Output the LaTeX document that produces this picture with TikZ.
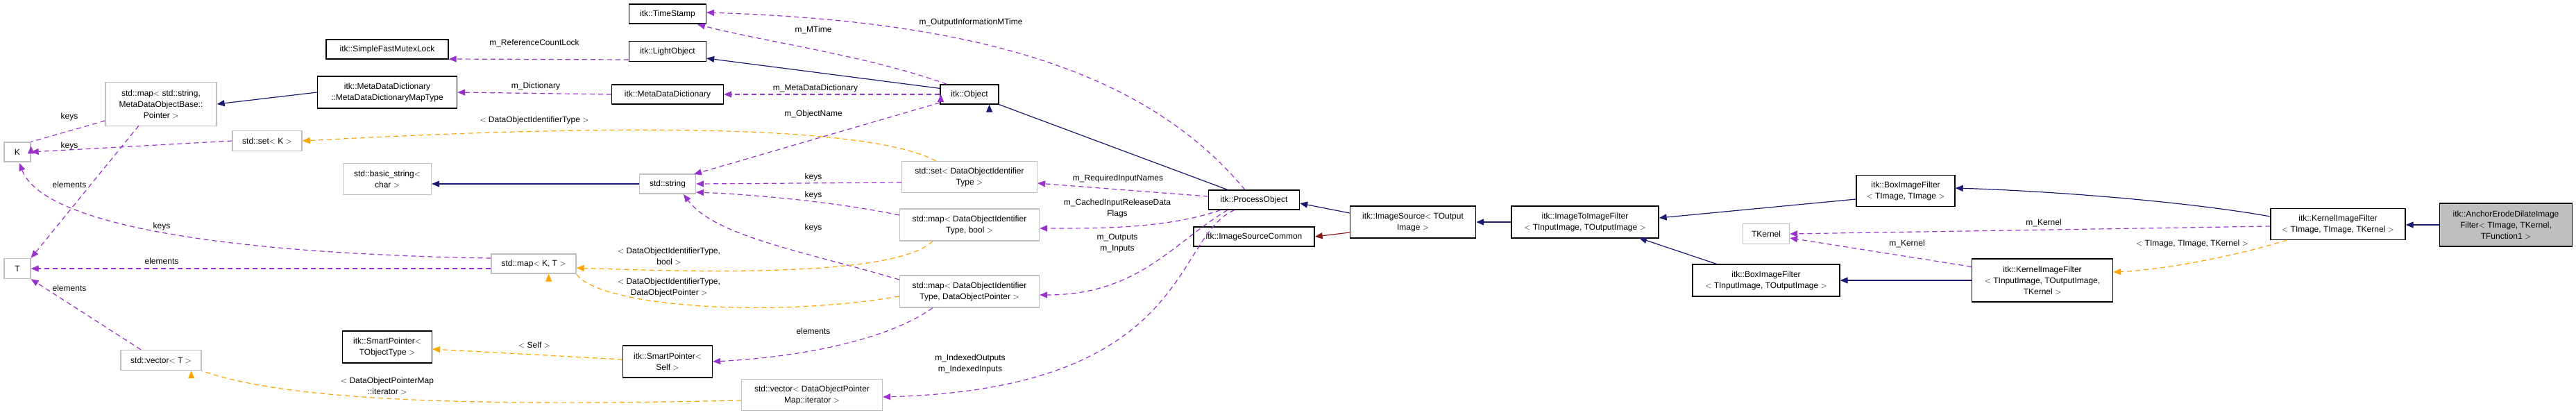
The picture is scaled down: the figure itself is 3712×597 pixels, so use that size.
\documentclass[tikz,border=0pt]{standalone}
\usepackage{fontspec}
\setmainfont{Liberation Sans}
\usetikzlibrary{arrows.meta}
\definecolor{inh}{RGB}{25,25,112}
\definecolor{use}{RGB}{153,50,204}
\definecolor{tpl}{RGB}{255,165,0}
\definecolor{priv}{RGB}{139,26,26}
\definecolor{gborder}{RGB}{191,191,191}
\definecolor{gfill}{RGB}{191,191,191}
\begin{document}
\begin{tikzpicture}[x=1pt,y=-1pt,
  every node/.style={font=\fontsize{12}{16}\selectfont},
  bx/.style={draw=black,line width=1.3pt,fill=white,align=center,inner sep=0pt},
  gx/.style={draw=gborder,line width=1.3pt,fill=white,align=center,inner sep=0pt},
  lb/.style={align=center,inner sep=0pt},
  tip/.style={-{Triangle[length=11pt,width=9pt]}},
  inhe/.style={tip,draw=inh,line width=1.2pt},
  privedge/.style={tip,draw=priv,line width=1.2pt},
  usee/.style={tip,draw=use,line width=1.2pt,dash pattern=on 7pt off 5pt},
  tple/.style={tip,draw=tpl,line width=1.2pt,dash pattern=on 7pt off 5pt}]
\useasboundingbox (0,0) rectangle (3712,597);
% nodes
\node[gx,minimum width=38pt,minimum height=28pt] (K) at (25,219) {K};
\node[gx,minimum width=38pt,minimum height=29pt] (T) at (25,387) {T};
\node[gx,minimum width=160pt,minimum height=63pt] (mapStr) at (232,150) {std::map$<$ std::string,\\ MetaDataObjectBase::\\ Pointer $>$};
\node[gx,minimum width=100pt,minimum height=29pt] (setK) at (385,203) {std::set$<$ K $>$};
\node[gx,minimum width=116pt,minimum height=29pt] (vecT) at (232,519) {std::vector$<$ T $>$};
\node[bx,minimum width=176pt,minimum height=28pt] (sfml) at (558,71) {itk::SimpleFastMutexLock};
\node[bx,minimum width=201pt,minimum height=46pt] (mddmt) at (558,133) {itk::MetaDataDictionary\\ ::MetaDataDictionaryMapType};
\node[gx,minimum width=127pt,minimum height=45pt] (bstr) at (558,258) {std::basic\_string$<$\\ char $>$};
\node[bx,minimum width=129pt,minimum height=46pt] (spT) at (558,500) {itk::SmartPointer$<$\\ TObjectType $>$};
\node[bx,minimum width=111pt,minimum height=28pt] (ts) at (962,20) {itk::TimeStamp};
\node[bx,minimum width=111pt,minimum height=29pt] (lo) at (962,74) {itk::LightObject};
\node[bx,minimum width=161pt,minimum height=28pt] (mdd) at (962,136) {itk::MetaDataDictionary};
\node[gx,minimum width=81pt,minimum height=28pt] (str) at (962,265) {std::string};
\node[bx,minimum width=129pt,minimum height=46pt] (spS) at (962,521) {itk::SmartPointer$<$\\ Self $>$};
\node[gx,minimum width=122pt,minimum height=28pt] (mapKT) at (769,380) {std::map$<$ K, T $>$};
\node[bx,minimum width=84pt,minimum height=28pt] (obj) at (1397,136) {itk::Object};
\node[gx,minimum width=195pt,minimum height=45pt] (setD) at (1397,255) {std::set$<$ DataObjectIdentifier\\ Type $>$};
\node[bx,minimum width=131pt,minimum height=28pt] (po) at (1807,288) {itk::ProcessObject};
\node[gx,minimum width=201pt,minimum height=46pt] (mapB) at (1397,324) {std::map$<$ DataObjectIdentifier\\ Type, bool $>$};
\node[gx,minimum width=201pt,minimum height=46pt] (mapP) at (1397,420) {std::map$<$ DataObjectIdentifier\\ Type, DataObjectPointer $>$};
\node[bx,minimum width=174pt,minimum height=28pt] (isc) at (1807,341) {itk::ImageSourceCommon};
\node[gx,minimum width=203pt,minimum height=45pt] (vecP) at (1170,569) {std::vector$<$ DataObjectPointer\\ Map::iterator $>$};
\node[bx,minimum width=181pt,minimum height=46pt] (is) at (2036,320) {itk::ImageSource$<$ TOutput\\ Image $>$};
\node[bx,minimum width=212pt,minimum height=46pt] (iif) at (2284,320) {itk::ImageToImageFilter\\ $<$ TInputImage, TOutputImage $>$};
\node[bx,minimum width=212pt,minimum height=46pt] (bio) at (2545,404) {itk::BoxImageFilter\\ $<$ TInputImage, TOutputImage $>$};
\node[gx,minimum width=67pt,minimum height=29pt] (tk) at (2545,337) {TKernel};
\node[bx,minimum width=142pt,minimum height=45pt] (btt) at (2746,275) {itk::BoxImageFilter\\ $<$ TImage, TImage $>$};
\node[bx,minimum width=194pt,minimum height=45pt] (kti) at (3369,323) {itk::KernelImageFilter\\ $<$ TImage, TImage, TKernel $>$};
\node[bx,minimum width=203pt,minimum height=62pt] (kio) at (2943,404) {itk::KernelImageFilter\\ $<$ TInputImage, TOutputImage,\\ TKernel $>$};
\node[bx,fill=gfill,minimum width=191pt,minimum height=62pt] (anc) at (3611,324) {itk::AnchorErodeDilateImage\\ Filter$<$ TImage, TKernel,\\ TFunction1 $>$};
% inheritance
\draw[inhe] (mddmt.west) -- (mapStr.east);
\draw[inhe] (obj.north west) ++(0,6) coordinate (o1) (o1) -- (lo.east |- 0,84);
\draw[inhe] (str.west) -- (bstr.east |- str.west);
\draw[inhe] (po.north west) ++(28,0) coordinate (p1) (p1) -- (obj.south east) ++(-14,0);
\draw[inhe] (is.west) ++(0,-13) coordinate (i1) (i1) -- (po.east |- 0,293);
\draw[privedge] (is.west) ++(0,15) coordinate (i2) (i2) -- (isc.east);
\draw[inhe] (iif.west) -- (is.east);
\draw[inhe] (bio.north west) ++(35,0) coordinate (b1) (b1) -- (2362,343);
\draw[inhe] (btt.west) ++(0,12) coordinate (b2) (b2) -- (iif.east |- 0,314);
\draw[inhe] (kti.west) ++(0,-11) coordinate (k1) (k1) .. controls (3150,290) and (2950,275) .. (btt.east |- 0,271);
\draw[inhe] (kio.west |- 0,404) coordinate (k2) (k2) -- (bio.east |- 0,404);
\draw[inhe] (anc.west) -- (kti.east |- anc.west);
% usage (purple)
\draw[usee] (mapStr.west) ++(0,24) coordinate (u1) (u1) -- (K.north east) ++(0,6);
\draw[usee] (setK.west) -- (K.east);
\draw[usee] (200,181) coordinate (u2) (u2) -- (T.north east);
\draw[usee] (mapKT.west) ++(0,-8) coordinate (u3) (u3) .. controls (300,365) and (60,320) .. (28,235);
\draw[usee] (mapKT.west) ++(0,7) coordinate (u4) (u4) -- (T.east |- 0,387);
\draw[usee] (vecT.north) ++(-29,0) coordinate (u5) (u5) -- (T.south east);
\draw[usee] (lo.west) ++(0,12) coordinate (u6) (u6) -- (sfml.east |- 0,85);
\draw[usee] (mdd.west) -- (mddmt.east);
\draw[usee] (obj.north west) ++(10,0) coordinate (u7) (u7) .. controls (1250,80) and (1100,60) .. (1005,35);
\draw[usee] (po.north west) ++(53,0) coordinate (u8) (u8) .. controls (1650,100) and (1400,30) .. (1018,18);
\draw[usee] (obj.west) ++(0,12) coordinate (u9) (u9) -- (1000,251);
\draw[usee] (obj.east) ++(-84,0) coordinate (u9b);
\draw[usee] (mdd.east) ++(0,0) coordinate (u10) (obj.west) -- (u10);
\draw[usee] (setD.west) ++(0,8) coordinate (u11) (u11) -- (str.east);
\draw[usee] (mapB.west) ++(0,-14) coordinate (u12) (u12) .. controls (1200,290) and (1080,280) .. (1003,277);
\draw[usee] (mapP.west) ++(0,-17) coordinate (u13) (u13) .. controls (1150,360) and (1030,340) .. (985,280);
\draw[usee] (po.west) ++(0,-5) coordinate (u14) (u14) -- (setD.east |- 0,264);
\draw[usee] (po.south west) ++(18,0) coordinate (u15) (u15) .. controls (1680,330) and (1580,329) .. (mapB.east |- 0,329);
\draw[usee] (po.south west) ++(28,0) coordinate (u16) (u16) .. controls (1690,350) and (1640,425) .. (mapP.east |- 0,425);
\draw[usee] (po.south west) ++(38,0) coordinate (u17) (u17) .. controls (1690,340) and (1720,560) .. (vecP.east |- 0,572);
\draw[usee] (mapP.south west) ++(48,0) coordinate (u18) (u18) .. controls (1280,490) and (1150,515) .. (spS.east);
\draw[usee] (kti.west) ++(0,3) coordinate (u19) (u19) -- (tk.east);
\draw[usee] (kio.north west) ++(0,12) coordinate (u20) (u20) -- (tk.east |- 0,343);
% template (orange)
\draw[tple] (setD.north west) ++(50,0) coordinate (t1) (t1) .. controls (1250,180) and (900,178) .. (setK.east);
\draw[tple] (mapB.south west) ++(48,0) coordinate (t2) (t2) .. controls (1290,400) and (1000,392) .. (mapKT.east |- 0,386);
\draw[tple] (mapP.west) ++(0,7) coordinate (t3) (t3) .. controls (1100,460) and (860,440) .. (mapKT.south east) ++(-40,0);
\draw[tple] (spS.west) ++(0,-3) coordinate (t4) (t4) -- (spT.east |- 0,503);
\draw[tple] (vecP.west) ++(0,8) coordinate (t5) (t5) .. controls (700,585) and (420,580) .. (vecT.south east) ++(-15,0);
\draw[tple] (kti.south west) ++(24,0) coordinate (t6) (t6) .. controls (3200,375) and (3100,390) .. (kio.east |- 0,392);
% labels
\node[lb] (l1) at (100,168) {keys};
\node[lb] (l2) at (100,210) {keys};
\node[lb] (l3) at (100,266) {elements};
\node[lb] (l4) at (233,326) {keys};
\node[lb] (l5) at (233,376) {elements};
\node[lb] (l6) at (100,415) {elements};
\node[lb] (l7) at (558,556) {$<$ DataObjectPointerMap\\ ::iterator $>$};
\node[lb] (l8) at (770,62) {m\_ReferenceCountLock};
\node[lb] (l9) at (772,124) {m\_Dictionary};
\node[lb] (l10) at (770,173) {$<$ DataObjectIdentifierType $>$};
\node[lb] (l11) at (964,369) {$<$ DataObjectIdentifierType,\\ bool $>$};
\node[lb] (l12) at (964,414) {$<$ DataObjectIdentifierType,\\ DataObjectPointer $>$};
\node[lb] (l13) at (770,497) {$<$ Self $>$};
\node[lb] (l14) at (1172,43) {m\_MTime};
\node[lb] (l15) at (1175,127) {m\_MetaDataDictionary};
\node[lb] (l16) at (1172,164) {m\_ObjectName};
\node[lb] (l17) at (1172,255) {keys};
\node[lb] (l18) at (1172,281) {keys};
\node[lb] (l19) at (1172,328) {keys};
\node[lb] (l20) at (1172,477) {elements};
\node[lb] (l21) at (1399,32) {m\_OutputInformationMTime};
\node[lb] (l22) at (1611,257) {m\_RequiredInputNames};
\node[lb] (l23) at (1610,300) {m\_CachedInputReleaseData\\ Flags};
\node[lb] (l24) at (1610,351) {m\_Outputs\\ m\_Inputs};
\node[lb] (l25) at (1398,524) {m\_IndexedOutputs\\ m\_IndexedInputs};
\node[lb] (l26) at (2945,321) {m\_Kernel};
\node[lb] (l27) at (2748,351) {m\_Kernel};
\node[lb] (l28) at (3159,351) {$<$ TImage, TImage, TKernel $>$};
\end{tikzpicture}
\end{document}
